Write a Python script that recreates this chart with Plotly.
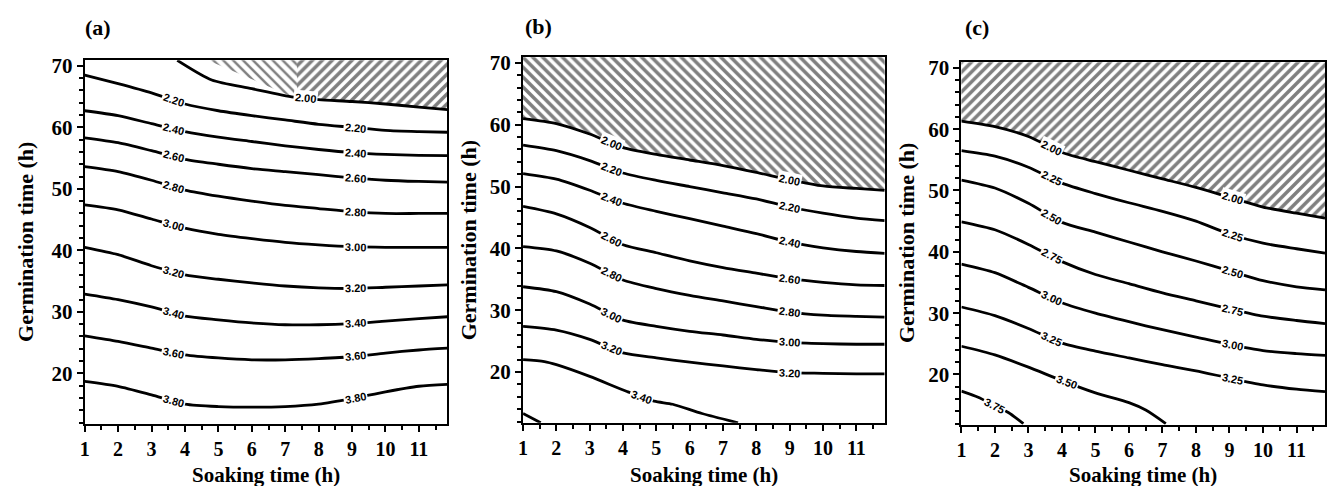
import math
import numpy as np
import plotly.graph_objects as go

# ---------------- data ----------------
soak = [1, 2, 3, 4, 5, 6, 7, 8, 9, 10, 11, 11.85]

# panel (a): germination time (h) of each iso-line at the soaking times above
a_2_20 = [68.5, 67.1, 65.6, 63.8, 62.7, 61.9, 61.2, 60.5, 60.0, 59.5, 59.3, 59.2]
a_2_40 = [62.7, 61.9, 60.6, 59.3, 58.4, 57.7, 57.0, 56.4, 55.9, 55.6, 55.45, 55.4]
a_2_60 = [58.3, 57.5, 56.2, 54.8, 54.0, 53.3, 52.8, 52.3, 51.8, 51.4, 51.2, 51.1]
a_2_80 = [53.6, 52.8, 51.4, 49.8, 48.8, 48.0, 47.3, 46.8, 46.3, 46.0, 46.0, 46.0]
a_3_00 = [47.4, 46.6, 45.1, 43.6, 42.6, 41.9, 41.3, 40.9, 40.6, 40.5, 40.5, 40.5]
a_3_20 = [40.5, 39.3, 37.5, 36.0, 35.3, 34.7, 34.2, 33.9, 33.8, 34.0, 34.2, 34.4]
a_3_40 = [32.9, 32.0, 30.8, 29.3, 28.7, 28.2, 27.9, 27.9, 28.1, 28.5, 28.9, 29.2]
a_3_60 = [26.1, 25.2, 24.1, 23.0, 22.5, 22.2, 22.2, 22.4, 22.7, 23.3, 23.8, 24.1]
a_3_80 = [18.7, 17.9, 16.5, 15.0, 14.6, 14.5, 14.6, 15.0, 15.9, 17.0, 17.9, 18.2]
a_2_00_x = [3.77, 4.8, 6.0, 7.25, 8.0, 9.0, 10.0, 11.0, 11.85]
a_2_00_y = [70.9, 67.7, 66.3, 64.9, 64.5, 64.2, 63.8, 63.3, 62.9]
# second shaded patch in (a): its slanted left edge
a_patch_edge_x = [4.68, 7.25]
a_patch_edge_y = [70.9, 64.9]
a_patch_split = 7.35

# panel (b)
b_2_00 = [61.0, 60.2, 58.5, 56.3, 55.2, 54.3, 53.4, 52.3, 51.1, 50.1, 49.7, 49.4]
b_2_20 = [56.7, 55.8, 54.2, 52.2, 51.0, 50.0, 49.0, 48.0, 46.7, 45.7, 44.9, 44.5]
b_2_40 = [52.1, 51.2, 49.4, 47.3, 46.0, 44.8, 43.6, 42.4, 41.0, 40.1, 39.5, 39.2]
b_2_60 = [46.8, 45.6, 43.4, 40.6, 39.3, 38.0, 36.9, 36.0, 35.1, 34.5, 34.1, 34.0]
b_2_80 = [40.3, 39.6, 37.6, 34.9, 33.5, 32.4, 31.5, 30.6, 29.7, 29.2, 29.0, 28.9]
b_3_00 = [33.8, 33.0, 31.0, 28.4, 27.4, 26.6, 26.0, 25.3, 24.8, 24.6, 24.5, 24.5]
b_3_20 = [27.4, 26.8, 25.3, 23.1, 22.3, 21.6, 21.0, 20.4, 19.9, 19.8, 19.7, 19.7]
b_3_40_x = [1, 1.64, 2, 3, 4.1, 4.93, 5.49, 6.37, 7.45]
b_3_40_y = [22.0, 21.7, 21.2, 19.3, 16.9, 15.3, 14.8, 13.3, 11.8]
b_3_60_x = [1, 1.53]
b_3_60_y = [13.3, 11.8]

# panel (c)
c_2_00 = [61.3, 60.4, 58.8, 56.2, 54.7, 53.3, 51.9, 50.5, 48.9, 47.3, 46.3, 45.5]
c_2_25 = [56.5, 55.6, 53.8, 51.2, 49.5, 48.0, 46.6, 45.0, 42.9, 41.4, 40.5, 39.8]
c_2_50 = [51.7, 50.4, 47.9, 44.8, 43.2, 41.6, 40.0, 38.5, 36.9, 35.3, 34.3, 33.8]
c_2_75 = [44.9, 43.6, 41.2, 38.4, 36.3, 34.8, 33.3, 32.0, 30.7, 29.5, 28.8, 28.3]
c_3_00 = [38.0, 36.6, 34.2, 31.7, 30.0, 28.6, 27.3, 26.1, 24.9, 23.9, 23.4, 23.1]
c_3_25 = [31.0, 29.6, 27.5, 25.1, 23.8, 22.7, 21.6, 20.6, 19.4, 18.3, 17.6, 17.2]
c_3_50_x = [1, 2, 3, 4, 5, 6, 6.5, 7.1]
c_3_50_y = [24.6, 23.2, 21.2, 19.0, 17.0, 15.4, 14.2, 12.0]
c_3_75_x = [1, 1.5, 2.0, 2.4, 2.85]
c_3_75_y = [17.3, 16.3, 14.9, 13.8, 12.0]

x_ticks = [1, 2, 3, 4, 5, 6, 7, 8, 9, 10, 11]
y_ticks = [20, 30, 40, 50, 60, 70]
X_RANGE = [1, 11.85]
Y_RANGE = [11.8, 70.9]

# (label text, x list, y list, x positions of inline labels)
panel_a = [
    ("2.00", a_2_00_x, a_2_00_y, [7.6]),
    ("2.20", soak, a_2_20, [3.67, 9.1]),
    ("2.40", soak, a_2_40, [3.67, 9.1]),
    ("2.60", soak, a_2_60, [3.67, 9.1]),
    ("2.80", soak, a_2_80, [3.67, 9.1]),
    ("3.00", soak, a_3_00, [3.67, 9.1]),
    ("3.20", soak, a_3_20, [3.67, 9.1]),
    ("3.40", soak, a_3_40, [3.67, 9.1]),
    ("3.60", soak, a_3_60, [3.67, 9.1]),
    ("3.80", soak, a_3_80, [3.67, 9.1]),
]
panel_b = [
    ("2.00", soak, b_2_00, [3.65, 9.0]),
    ("2.20", soak, b_2_20, [3.65, 9.0]),
    ("2.40", soak, b_2_40, [3.65, 9.0]),
    ("2.60", soak, b_2_60, [3.65, 9.0]),
    ("2.80", soak, b_2_80, [3.65, 9.0]),
    ("3.00", soak, b_3_00, [3.65, 9.0]),
    ("3.20", soak, b_3_20, [3.65, 9.0]),
    ("3.40", b_3_40_x, b_3_40_y, [4.55]),
    ("3.60", b_3_60_x, b_3_60_y, []),
]
panel_c = [
    ("2.00", soak, c_2_00, [3.7, 9.1]),
    ("2.25", soak, c_2_25, [3.7, 9.1]),
    ("2.50", soak, c_2_50, [3.7, 9.1]),
    ("2.75", soak, c_2_75, [3.7, 9.1]),
    ("3.00", soak, c_3_00, [3.7, 9.1]),
    ("3.25", soak, c_3_25, [3.7, 9.1]),
    ("3.50", c_3_50_x, c_3_50_y, [4.15]),
    ("3.75", c_3_75_x, c_3_75_y, [2.0]),
]

# ---------------- layout geometry (pixels) ----------------
W, H = 1327, 486
boxes = [(80, 444, 55, 423), (520, 883, 52, 422), (960, 1325, 57, 424)]
letters = ["(a)", "(b)", "(c)"]
letter_pos = [(93, 22), (536, 21), (976, 22)]
ytitle_x = [20, 465, 905]

SERIF = "Liberation Serif"
fig = go.Figure()


def axis_names(i):
    s = "" if i == 0 else str(i + 1)
    return "x" + s, "y" + s


def add_hatch(i, xs, ys, shape, solidity=0.5):
    xr, yr = axis_names(i)
    fig.add_trace(go.Scatter(
        x=xs, y=ys, xaxis=xr, yaxis=yr, mode="lines", fill="toself",
        line=dict(width=0, color="rgba(0,0,0,0)"),
        fillcolor="white",
        fillpattern=dict(shape=shape, fgcolor="black", bgcolor="white",
                         size=7, solidity=solidity),
        hoverinfo="skip", showlegend=False))


# hatched regions
TOP = 73
# (a) right patch "/": above the 2.00 line from the split to the right edge
ax_ = [x for x in a_2_00_x if x >= a_patch_split]
ay_ = list(np.interp(ax_, a_2_00_x, a_2_00_y))
split_y = float(np.interp(a_patch_split, a_2_00_x, a_2_00_y))
add_hatch(0, [a_patch_split] + ax_ + [X_RANGE[1] + 0.5, X_RANGE[1] + 0.5, a_patch_split],
          [split_y] + ay_ + [ay_[-1], TOP, TOP], "/")
# (a) left patch "\"
add_hatch(0, [a_patch_edge_x[0], a_patch_split, a_patch_split, a_patch_edge_x[1], a_patch_edge_x[0]],
          [TOP, TOP, split_y, a_patch_edge_y[1], a_patch_edge_y[0]], "\\", solidity=0.35)
# (b)
add_hatch(1, [0] + soak + [13, 13, 0], [b_2_00[0]] + b_2_00 + [b_2_00[-1], TOP, TOP], "\\")
# (c)
add_hatch(2, [0] + soak + [13, 13, 0], [c_2_00[0]] + c_2_00 + [c_2_00[-1], TOP, TOP], "/")

annotations = []
for i, panel in enumerate([panel_a, panel_b, panel_c]):
    xr, yr = axis_names(i)
    l, r, t, b = boxes[i]
    sx = (r - l) / (X_RANGE[1] - X_RANGE[0])
    sy = (b - t) / (Y_RANGE[1] - Y_RANGE[0])
    for text, xs, ys, lab_x in panel:
        fig.add_trace(go.Scatter(
            x=xs, y=ys, xaxis=xr, yaxis=yr, mode="lines",
            line=dict(color="black", width=2.8, shape="spline", smoothing=0.7),
            hoverinfo="skip", showlegend=False))
        for lx in lab_x:
            ly = float(np.interp(lx, xs, ys))
            slope = (np.interp(lx + 0.3, xs, ys) - np.interp(lx - 0.3, xs, ys)) / 0.6
            ang = math.degrees(math.atan2(-slope * sy, sx))
            annotations.append(dict(
                x=lx, y=ly, xref=xr, yref=yr, text="<b>" + text + "</b>",
                showarrow=False, textangle=ang, bgcolor="white", borderpad=1,
                font=dict(family="Liberation Sans", size=11, color="black")))

    annotations.append(dict(
        x=letter_pos[i][0] / W, y=1 - letter_pos[i][1] / H, xref="paper", yref="paper",
        text="<b>" + letters[i] + "</b>", showarrow=False, xanchor="center", yanchor="middle",
        font=dict(family=SERIF, size=22, color="black")))
    annotations.append(dict(
        x=ytitle_x[i] / W, y=1 - ((t + b) / 2) / H, xref="paper", yref="paper",
        text="<b>Germination time (h)</b>", textangle=-90, showarrow=False,
        xanchor="center", yanchor="middle",
        font=dict(family=SERIF, size=22, color="black")))
    annotations.append(dict(
        x=((l + r) / 2) / W, y=1 - 475 / H, xref="paper", yref="paper",
        text="<b>Soaking time (h)</b>", showarrow=False,
        xanchor="center", yanchor="middle",
        font=dict(family=SERIF, size=21, color="black")))

layout = dict(
    width=W, height=H, margin=dict(l=0, r=0, t=0, b=0),
    paper_bgcolor="white", plot_bgcolor="white", showlegend=False,
    annotations=annotations,
)
for i in range(3):
    l, r, t, b = boxes[i]
    s = "" if i == 0 else str(i + 1)
    xr, yr = axis_names(i)
    layout["xaxis" + s] = dict(
        domain=[l / W, r / W], anchor=yr, range=X_RANGE,
        tickmode="array", tickvals=x_ticks, ticks="outside", ticklen=6, tickwidth=1.5,
        tickcolor="black", showline=True, linewidth=2, linecolor="black", mirror=True,
        showgrid=False, zeroline=False,
        minor=dict(dtick=0.5, tick0=1, ticks="outside", ticklen=4, tickwidth=1.5,
                   tickcolor="black", showgrid=False),
        tickfont=dict(family=SERIF, size=20, color="black", weight="bold"))
    layout["yaxis" + s] = dict(
        domain=[1 - b / H, 1 - t / H], anchor=xr, range=Y_RANGE,
        tickmode="array", tickvals=y_ticks, ticks="outside", ticklen=6, tickwidth=1.5,
        tickcolor="black", showline=True, linewidth=2, linecolor="black", mirror=True,
        showgrid=False, zeroline=False,
        minor=dict(dtick=2, tick0=0, ticks="outside", ticklen=4, tickwidth=1.5,
                   tickcolor="black", showgrid=False),
        tickfont=dict(family=SERIF, size=21, color="black", weight="bold"))

fig.update_layout(**layout)
fig.write_html("out.html")
